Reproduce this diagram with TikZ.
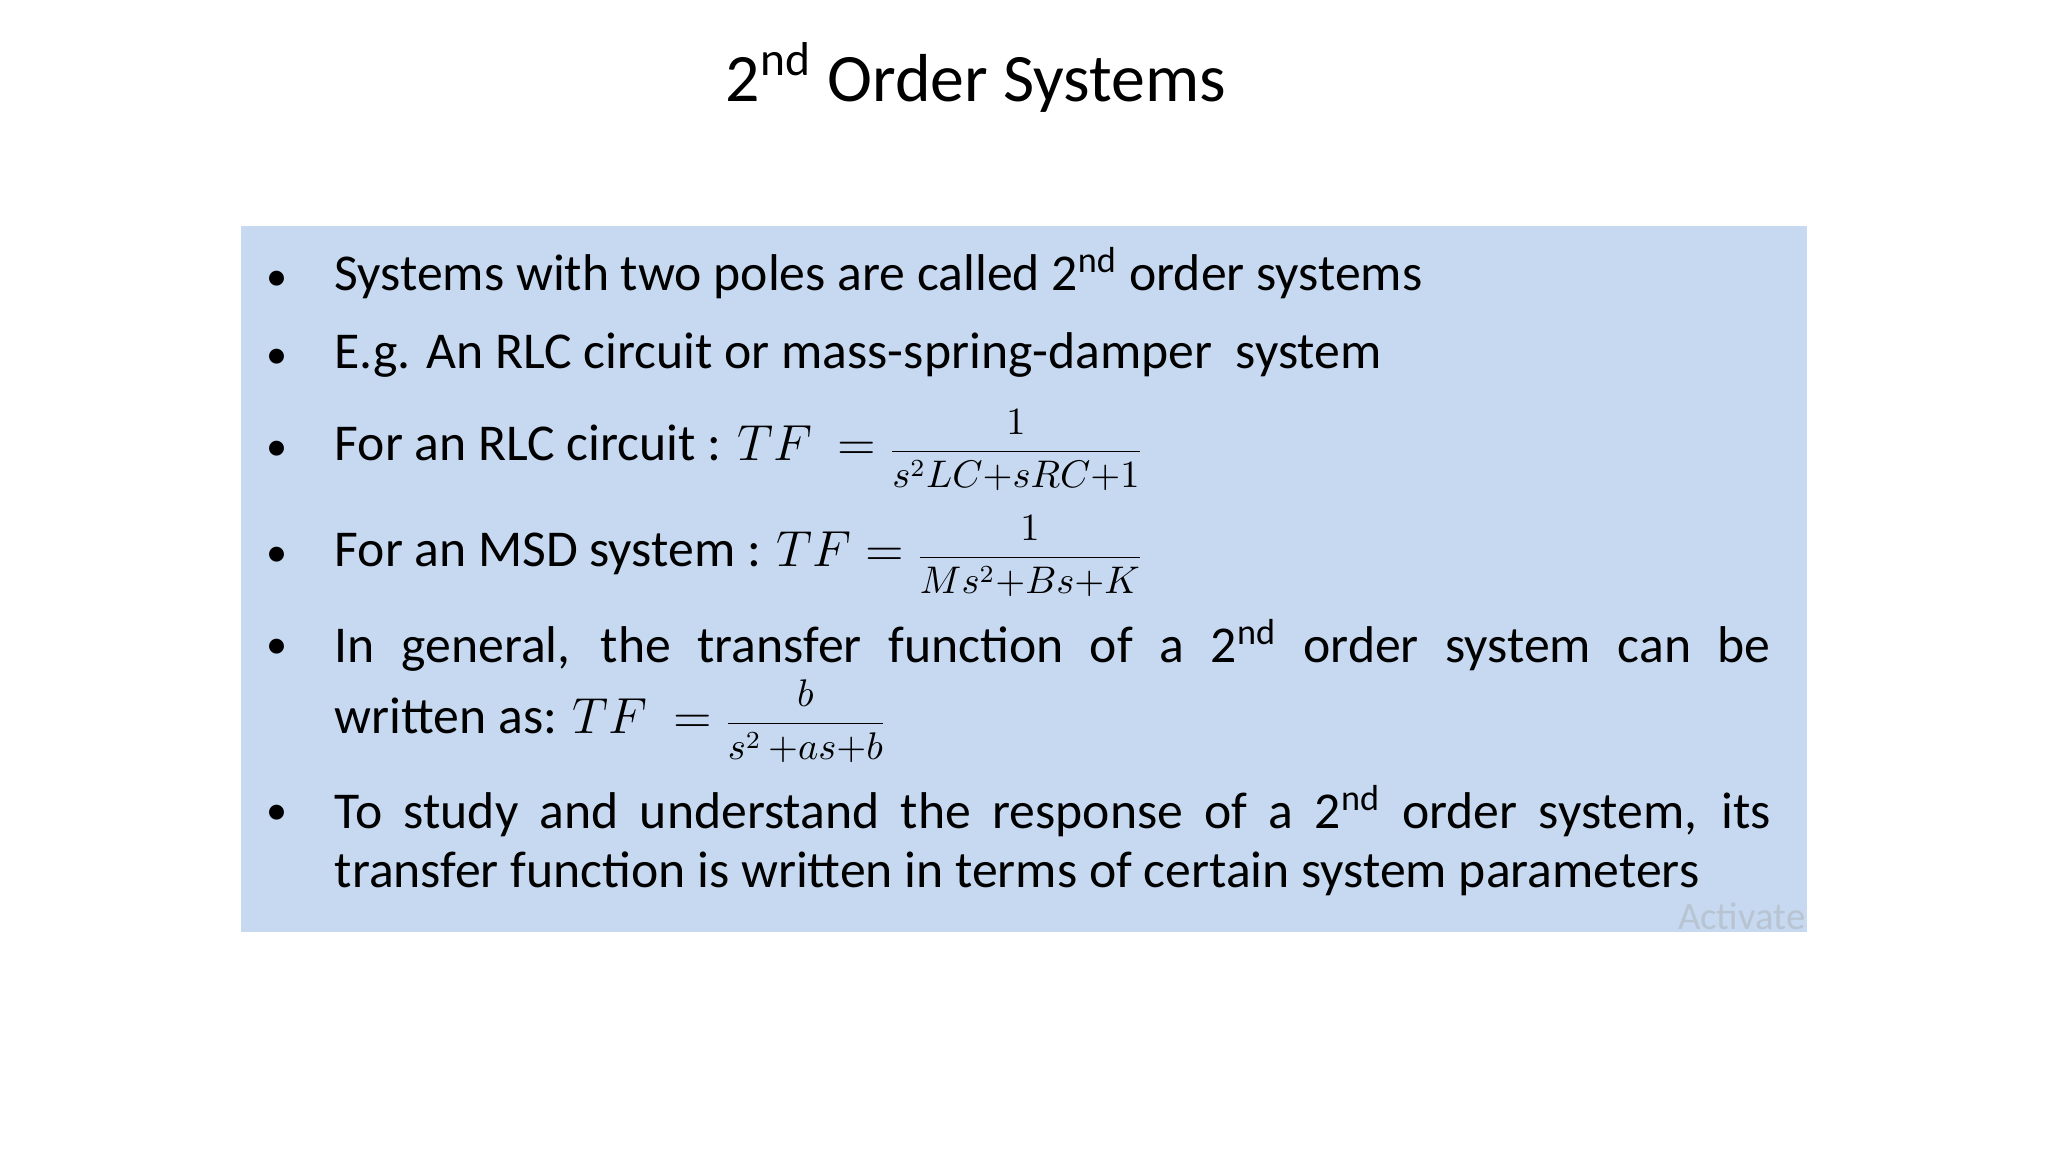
\documentclass[tikz,border=0pt]{standalone}
\usepackage{fontspec}
\setmainfont{Carlito}
\definecolor{boxblue}{HTML}{C6D9F0}
\definecolor{wm}{HTML}{B8C4D2}
\newcommand{\jline}[1]{\parbox{14.35cm}{\parfillskip=0pt\relax #1}}
\newcommand{\fr}[2]{{\fontsize{10.5}{12}\selectfont$\displaystyle\frac{#1}{#2}$}}
\tikzset{body/.style={anchor=base west,inner sep=0pt,font=\fontsize{14.7}{17}\selectfont},
bul/.style={anchor=base,inner sep=0pt,font=\fontsize{12}{14}\selectfont}}
\begin{document}
\begin{tikzpicture}[x=0.01cm,y=-0.01cm]
\useasboundingbox (0,0) rectangle (2048,1152);
\fill[white] (0,0) rectangle (2048,1152);
\fill[boxblue] (241,226) rectangle (1807,932);
\node[anchor=base,inner sep=0pt,font=\fontsize{19.3}{23}\selectfont] (title) at (976,102) {2\textsuperscript{nd} Order Systems};
\foreach \y/\n in {291/a,369/b,461/c,567/d,658/e,824/f}{\node[bul] (b\n) at (277,\y) {•};}
\node[body] (l1) at (334,291) {Systems with two poles are called 2\textsuperscript{nd} order systems};
\node[body] (l2) at (334,369) {E.g. An RLC circuit or mass-spring-damper\ \ system};
\node[body] (l3) at (334,461) {For an RLC circuit : $TF\ =$ \fr{1}{s^2LC{+}sRC{+}1}};
\node[body] (l4) at (334,567) {For an MSD system : $TF =$ \fr{1}{Ms^2{+}Bs{+}K}};
\node[body] (l5) at (334,658) {\jline{In general, the transfer function of a 2\textsuperscript{nd} order system can be}};
\node[body] (l6) at (334,733) {written as: $TF\ =$ \fr{b}{s^2\,{+}as{+}b}};
\node[body] (l7) at (334,824) {\jline{To study and understand the response of a 2\textsuperscript{nd} order system, its}};
\node[body] (l8) at (334,887) {transfer function is written in terms of certain system parameters};
\node[anchor=base east,inner sep=0pt,text=wm,font=\fontsize{11}{13}\selectfont] (wm) at (1806,929) {Activate};
\end{tikzpicture}
\end{document}
